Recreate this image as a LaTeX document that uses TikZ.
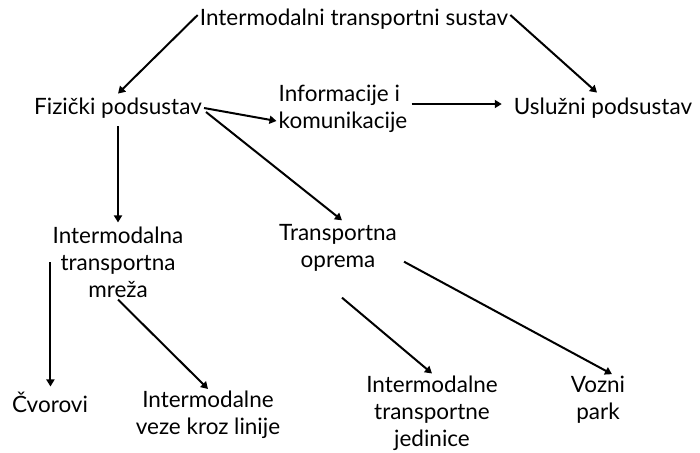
\documentclass[tikz,border=0pt]{standalone}
\usepackage{fontspec}
\setmainfont{Lato}
\usetikzlibrary{arrows.meta,calc}
\begin{document}
\begin{tikzpicture}[x=1pt,y=-1pt,
  lbl/.style={font=\fontsize{22.5}{27}\selectfont, inner sep=2pt, align=center},
  arr/.style={line width=2pt, -{Triangle[length=7pt,width=8pt]}}]
\useasboundingbox (0,0) rectangle (700,452);
\node[lbl] (top) at (354,19) {Intermodalni transportni sustav};
\node[lbl] (fiz) at (118,108) {Fizički podsustav};
\node[lbl, align=left] (info) at (343,109) {Informacije i\\komunikacije};
\node[lbl] (usl) at (603,108) {Uslužni podsustav};
\node[lbl] (mreza) at (118,262) {Intermodalna\\transportna\\mreža};
\node[lbl] (oprema) at (338,248) {Transportna\\oprema};
\node[lbl] (cvor) at (50,402) {Čvorovi};
\node[lbl] (veze) at (208,415) {Intermodalne\\veze kroz linije};
\node[lbl] (jed) at (432,413) {Intermodalne\\transportne\\jedinice};
\node[lbl] (vozni) at (598,400) {Vozni\\park};
\draw[arr] ($(top.west)+(0,-4)$) -- ($(fiz.north)+(0,-2)$);
\draw[arr] ($(top.east)+(0,-4)$) -- ($(usl.north)+(-6,-3)$);
\draw[arr] (fiz.east) -- ($(info.west)+(0,12)$);
\draw[arr] ($(info.east)+(2,-5)$) -- ($(usl.west)+(-10,-4)$);
\draw[arr] ($(fiz.east)+(2,4)$) -- ($(oprema.north)+(4,-2)$);
\draw[arr] ($(fiz.south)+(0,6)$) -- ($(mreza.north)+(0,-2)$);
\draw[arr] (mreza.west) -- ($(mreza.west |- cvor.north)+(0,-3)$);
\draw[arr] (mreza.south) -- (veze.north);
\draw[arr] ($(oprema.south)+(4,24)$) -- (jed.north);
\draw[arr] ($(oprema.south east)+(5,-12)$) -- ($(vozni.north)+(14,0)$);
\end{tikzpicture}
\end{document}
